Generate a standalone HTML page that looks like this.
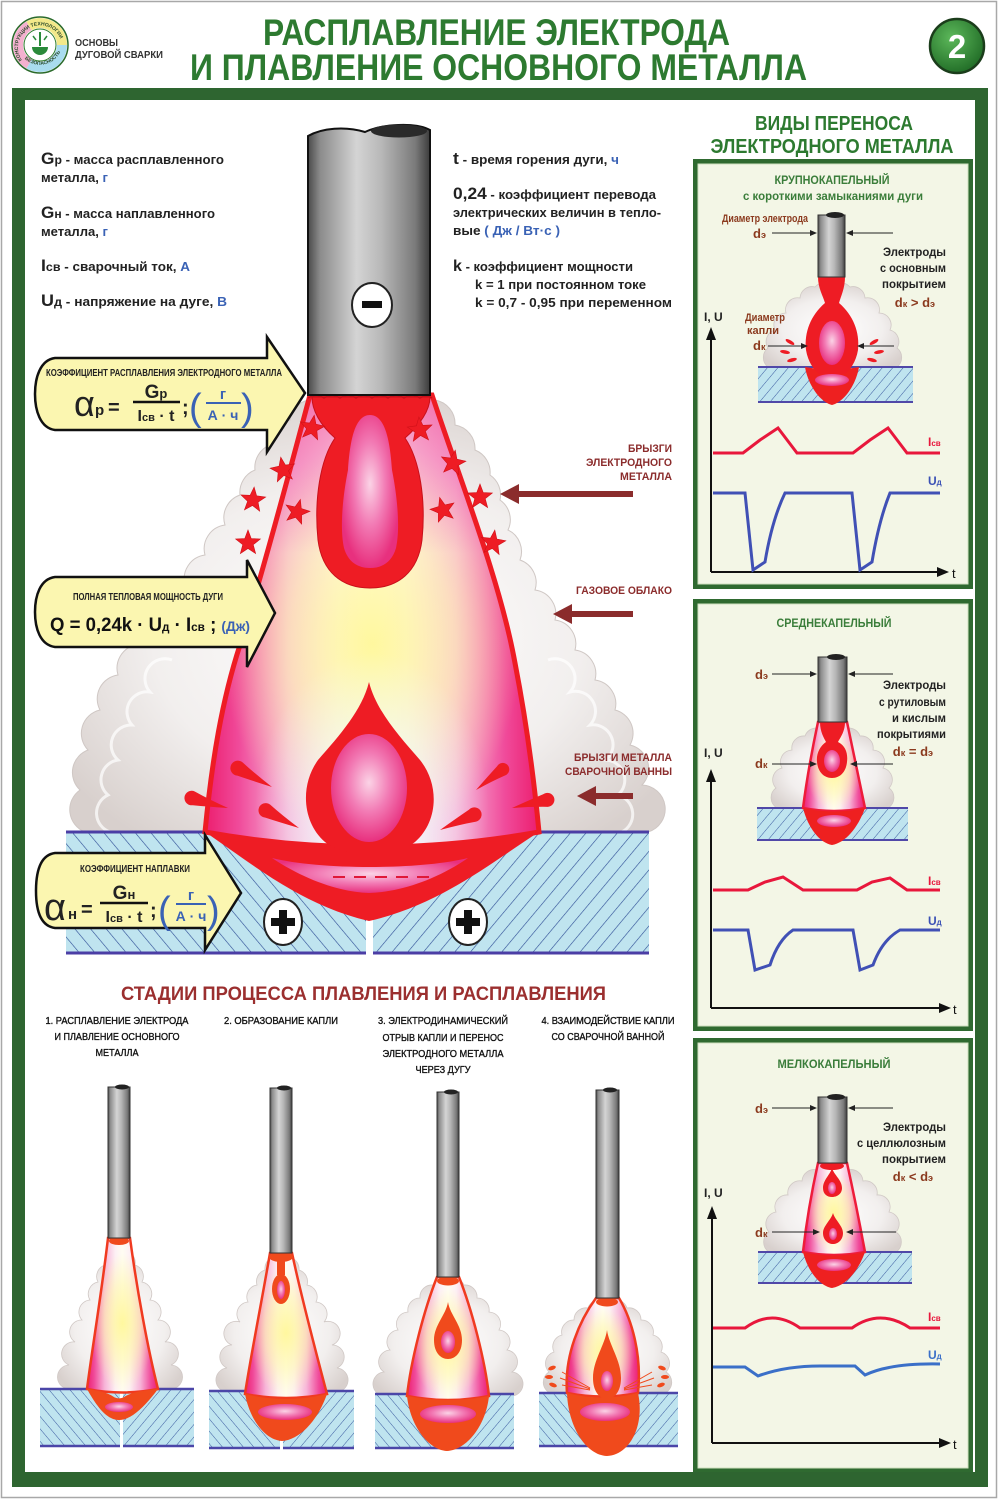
<!DOCTYPE html>
<html><head><meta charset="utf-8"><style>
html,body{margin:0;padding:0;background:#fff;}
svg{display:block;}
text{font-family:"Liberation Sans","DejaVu Sans",sans-serif;}
.b{font-weight:bold;}
</style></head><body>
<svg width="1000" height="1500" viewBox="0 0 1000 1500" xmlns="http://www.w3.org/2000/svg">
<defs>
 <linearGradient id="gEl" x1="0" x2="1" y1="0" y2="0">
  <stop offset="0" stop-color="#4a4a4a"/><stop offset=".1" stop-color="#8c8c8c"/>
  <stop offset=".4" stop-color="#d4d4d4"/><stop offset=".6" stop-color="#b8b8b8"/>
  <stop offset=".88" stop-color="#7a7a7a"/><stop offset="1" stop-color="#3c3c3c"/>
 </linearGradient>
 <linearGradient id="gFl" x1="0" x2="1" y1="0" y2="0">
  <stop offset="0" stop-color="#ec1e6e"/><stop offset=".1" stop-color="#f04a9a"/>
  <stop offset=".25" stop-color="#f7b4d8"/><stop offset=".4" stop-color="#fdf0f4"/>
  <stop offset=".5" stop-color="#fffdf2"/><stop offset=".6" stop-color="#fdf0f4"/>
  <stop offset=".75" stop-color="#f7b4d8"/><stop offset=".9" stop-color="#f04a9a"/>
  <stop offset="1" stop-color="#ec1e6e"/>
 </linearGradient>
 <radialGradient id="gYe" cx=".5" cy=".55" r=".45">
  <stop offset="0" stop-color="#fff79a" stop-opacity=".95"/>
  <stop offset=".55" stop-color="#fff8a8" stop-opacity=".55"/>
  <stop offset="1" stop-color="#fff8a8" stop-opacity="0"/>
 </radialGradient>
 <radialGradient id="gWh" cx=".5" cy=".92" r=".35">
  <stop offset="0" stop-color="#eef9fd" stop-opacity=".95"/>
  <stop offset="1" stop-color="#eef9fd" stop-opacity="0"/>
 </radialGradient>
 <linearGradient id="gTop" x1="0" y1="0" x2="0" y2="1">
  <stop offset="0" stop-color="#ee2a86" stop-opacity=".55"/>
  <stop offset=".35" stop-color="#ee2a86" stop-opacity="0"/>
 </linearGradient>
 <radialGradient id="gPk" cx=".5" cy=".45" r=".55">
  <stop offset="0" stop-color="#fbd3e6"/><stop offset=".5" stop-color="#f27ab4"/>
  <stop offset="1" stop-color="#e8307e"/>
 </radialGradient>
 <radialGradient id="gCl" cx=".5" cy=".55" r=".6">
  <stop offset="0" stop-color="#ffffff"/><stop offset=".6" stop-color="#f2efee"/>
  <stop offset="1" stop-color="#d8d0cd"/>
 </radialGradient>
 <radialGradient id="g2" cx=".4" cy=".35" r=".7">
  <stop offset="0" stop-color="#5cb85a"/><stop offset="1" stop-color="#1f6a25"/>
 </radialGradient>
 <pattern id="hL12" width="12" height="12" patternUnits="userSpaceOnUse" patternTransform="rotate(-40)">
  <rect width="12" height="12" fill="#bfe4ef"/><line x1="0" y1="0" x2="0" y2="12" stroke="#2b4a94" stroke-width="1.2"/></pattern>
 <pattern id="hR12" width="12" height="12" patternUnits="userSpaceOnUse" patternTransform="rotate(40)">
  <rect width="12" height="12" fill="#bfe4ef"/><line x1="0" y1="0" x2="0" y2="12" stroke="#2b4a94" stroke-width="1.2"/></pattern>
 <pattern id="hL8" width="8" height="8" patternUnits="userSpaceOnUse" patternTransform="rotate(-40)">
  <rect width="8" height="8" fill="#bfe4ef"/><line x1="0" y1="0" x2="0" y2="8" stroke="#3a5aa0" stroke-width="1"/></pattern>
 <pattern id="hR8" width="8" height="8" patternUnits="userSpaceOnUse" patternTransform="rotate(40)">
  <rect width="8" height="8" fill="#bfe4ef"/><line x1="0" y1="0" x2="0" y2="8" stroke="#3a5aa0" stroke-width="1"/></pattern>
 <polygon id="star" points="0,-13 3.23,-4.45 12.36,-4.02 5.23,1.7 7.64,10.52 0,5.5 -7.64,10.52 -5.23,1.7 -12.36,-4.02 -3.23,-4.45" fill="#ee1c24" stroke="#d01018" stroke-width=".6"/>
 <path id="spl" d="M0,0 Q14,-2.5 24,-4 A5,5 0 1 1 25,5.5 Q14,2.5 0,0 Z" fill="#ee1c24"/>
 <path id="lp" d="M22,60 A22,22 0 1 1 58,60" fill="none"/>
 <path id="lp2" d="M20,52 A22,22 0 0 0 60,52" fill="none"/>
</defs>

<!-- page -->
<rect x="0" y="0" width="1000" height="1500" fill="#fff"/>
<rect x="1.5" y="1.5" width="995" height="1496" fill="none" stroke="#a8a8a8" stroke-width="1.5"/>

<!-- header -->
<circle cx="40" cy="45" r="28" fill="#fff" stroke="#2a6a2a" stroke-width="1.5"/>
<path d="M29,64.05 A22,22 0 0 1 29,25.95" fill="none" stroke="#f4b0cf" stroke-width="10"/>
<path d="M29,25.95 A22,22 0 0 1 62,45" fill="none" stroke="#f3e98a" stroke-width="10"/>
<path d="M62,45 A22,22 0 0 1 29,64.05" fill="none" stroke="#a9dcef" stroke-width="10"/>
<text font-size="5" class="b" fill="#2a4a2a"><textPath href="#lp">КОНСТРУКЦИИ ТЕХНОЛОГИИ</textPath></text>
<text font-size="5" class="b" fill="#2a4a2a"><textPath href="#lp2" startOffset="8">БЕЗОПАСНОСТЬ</textPath></text>
<circle cx="40" cy="45" r="16" fill="#fff" stroke="#2a7a2a" stroke-width="1"/>
<line x1="40" y1="32" x2="40" y2="46" stroke="#2a8a3a" stroke-width="2"/>
<path d="M32,47 A8,8 0 0 0 48,47 Z" fill="#2a8a3a"/>
<line x1="33" y1="36" x2="36" y2="40" stroke="#2a8a3a" stroke-width="1.5"/>
<line x1="47" y1="36" x2="44" y2="40" stroke="#2a8a3a" stroke-width="1.5"/>
<text x="75" y="46" font-size="10" class="b" fill="#333" textLength="43" lengthAdjust="spacingAndGlyphs">ОСНОВЫ</text>
<text x="75" y="58" font-size="10" class="b" fill="#333" textLength="88" lengthAdjust="spacingAndGlyphs">ДУГОВОЙ СВАРКИ</text>
<text x="263" y="45" font-size="37" class="b" fill="#2d7a30" textLength="467" lengthAdjust="spacingAndGlyphs">РАСПЛАВЛЕНИЕ ЭЛЕКТРОДА</text>
<text x="190" y="80" font-size="37" class="b" fill="#2d7a30" textLength="617" lengthAdjust="spacingAndGlyphs">И ПЛАВЛЕНИЕ ОСНОВНОГО МЕТАЛЛА</text>
<circle cx="957" cy="46" r="27" fill="url(#g2)" stroke="#1b3d1b" stroke-width="2.5"/>
<text x="957" y="58" font-size="33" class="b" fill="#fff" text-anchor="middle">2</text>

<!-- frame -->
<rect x="12" y="88" width="976" height="1399" fill="#2e6530"/>
<rect x="25" y="100" width="950" height="1372" fill="#fff"/>

<!-- ===== MAIN DIAGRAM ===== -->
<path d="M85,832 A24,24 0 0 1 80,790 A24,24 0 0 1 88,750 A24,24 0 0 1 100,710 A24,24 0 0 1 118,675 A24,24 0 0 1 135,645 A24,24 0 0 1 160,615 A24,24 0 0 1 185,585 A24,24 0 0 1 205,555 A24,24 0 0 1 225,525 A24,24 0 0 1 240,495 A24,24 0 0 1 255,470 A24,24 0 0 1 270,445 A24,24 0 0 1 290,420 A24,24 0 0 1 308,400 L435,400 A24,24 0 0 1 455,425 A24,24 0 0 1 475,450 A24,24 0 0 1 490,475 A24,24 0 0 1 500,500 A24,24 0 0 1 508,530 A24,24 0 0 1 520,560 A24,24 0 0 1 535,590 A24,24 0 0 1 555,620 A24,24 0 0 1 575,650 A24,24 0 0 1 595,680 A24,24 0 0 1 615,710 A24,24 0 0 1 630,745 A24,24 0 0 1 642,785 A24,24 0 0 1 648,832 Z" fill="url(#gCl)" stroke="#cfc7c4" stroke-width="1"/>
<path d="M110,832 A20,20 0 0 1 108,795 A20,20 0 0 1 118,760 A20,20 0 0 1 132,725 A20,20 0 0 1 150,692 A20,20 0 0 1 172,660" fill="none" stroke="#fff" stroke-width="3" opacity=".7"/>
<path d="M622,832 A20,20 0 0 0 618,795 A20,20 0 0 0 606,760 A20,20 0 0 0 590,725 A20,20 0 0 0 570,692 A20,20 0 0 0 548,660" fill="none" stroke="#fff" stroke-width="3" opacity=".7"/>

<!-- plates -->
<rect x="66" y="832" width="300" height="121" fill="url(#hL12)"/>
<rect x="373" y="832" width="276" height="121" fill="url(#hR12)"/>
<line x1="66" y1="832" x2="366" y2="832" stroke="#4b3ea5" stroke-width="3"/>
<line x1="66" y1="953" x2="366" y2="953" stroke="#4b3ea5" stroke-width="3"/>
<line x1="373" y1="832" x2="649" y2="832" stroke="#4b3ea5" stroke-width="3"/>
<line x1="373" y1="953" x2="649" y2="953" stroke="#4b3ea5" stroke-width="3"/>

<!-- flame -->
<path d="M310,395 L432,395 C460,480 500,580 515,663 C528,730 535,790 539,832 Q372,862 205,832 C212,760 222,700 240,645 C262,575 290,470 310,395 Z" fill="url(#gFl)"/>
<path d="M310,395 L432,395 C460,480 500,580 515,663 C528,730 535,790 539,832 Q372,862 205,832 C212,760 222,700 240,645 C262,575 290,470 310,395 Z" fill="url(#gYe)"/>
<path d="M310,395 L432,395 C460,480 500,580 515,663 C528,730 535,790 539,832 Q372,862 205,832 C212,760 222,700 240,645 C262,575 290,470 310,395 Z" fill="url(#gWh)"/>
<path d="M310,395 L432,395 C460,480 500,580 515,663 C528,730 535,790 539,832 Q372,862 205,832 C212,760 222,700 240,645 C262,575 290,470 310,395 Z" fill="url(#gTop)" stroke="#ee1c24" stroke-width="5"/>

<!-- pool -->
<path d="M205,832 C250,862 300,905 369,921 C440,905 492,862 539,832 Q372,860 205,832 Z" fill="#ee1c24"/>
<path d="M272,858 C305,880 340,892 369,893 C400,892 436,880 468,858 C420,870 320,870 272,858 Z" fill="url(#gPk)"/>
<line x1="333" y1="877" x2="434" y2="877" stroke="#e01838" stroke-width="2" stroke-dasharray="12,9"/>

<!-- big drop -->
<path d="M369,682 C362,710 340,735 318,760 C300,785 302,822 325,842 C345,858 395,858 415,842 C438,822 440,785 420,760 C398,735 376,710 369,682 Z" fill="#ee1c24"/>
<ellipse cx="369" cy="788" rx="38" ry="54" fill="url(#gPk)"/>

<!-- top drop -->
<path d="M312,397 L430,397 C430,410 420,425 405,438 C420,460 426,500 422,540 C418,572 398,588 370,588 C342,588 322,572 318,540 C314,500 320,460 335,438 C320,425 312,410 312,397 Z" fill="#ee1c24" stroke="#c8101a" stroke-width="1"/>
<path d="M370,415 C385,415 390,440 392,470 C398,500 400,530 396,548 C392,562 382,568 370,568 C358,568 348,562 344,548 C340,530 342,500 348,470 C350,440 355,415 370,415 Z" fill="url(#gPk)"/>
<path d="M308,398 Q316,393 324,398 Q332,393 340,398 Q348,393 356,398 Q364,393 372,398 Q380,393 388,398 Q396,393 404,398 Q412,393 420,398 Q426,394 432,398" fill="none" stroke="#c8101a" stroke-width="1.5"/>

<!-- stars -->
<use href="#star" transform="translate(312,428) rotate(10)"/>
<use href="#star" transform="translate(283,470) rotate(-10)"/>
<use href="#star" transform="translate(253,500) rotate(5)"/>
<use href="#star" transform="translate(297,512) rotate(15)"/>
<use href="#star" transform="translate(248,543)"/>
<use href="#star" transform="translate(420,430) rotate(-5)"/>
<use href="#star" transform="translate(453,463) rotate(10)"/>
<use href="#star" transform="translate(480,497)"/>
<use href="#star" transform="translate(443,510) rotate(-15)"/>
<use href="#star" transform="translate(493,543) rotate(8)"/>

<!-- splashes -->
<use href="#spl" transform="translate(272,787) rotate(207.6) scale(1.5)"/>
<use href="#spl" transform="translate(228,808) rotate(194) scale(1.45)"/>
<use href="#spl" transform="translate(299,828) rotate(206.6) scale(1.45)"/>
<use href="#spl" transform="translate(476,790) rotate(-38.9) scale(1.3)"/>
<use href="#spl" transform="translate(512,808) rotate(-14.3) scale(1.4)"/>
<use href="#spl" transform="translate(440,830) rotate(-25.5) scale(1.45)"/>

<!-- plus signs -->
<ellipse cx="283" cy="922" rx="19" ry="23" fill="#fff" stroke="#222" stroke-width="2"/>
<rect x="279" y="910" width="8" height="24" fill="#111"/><rect x="271" y="918" width="24" height="8" fill="#111"/>
<ellipse cx="468" cy="922" rx="19" ry="23" fill="#fff" stroke="#222" stroke-width="2"/>
<rect x="464" y="910" width="8" height="24" fill="#111"/><rect x="456" y="918" width="24" height="8" fill="#111"/>

<!-- electrode -->
<path d="M308,395 L308,136 C322,128 345,126 365,132 C382,124 415,122 430,130 L430,395 Z" fill="url(#gEl)" stroke="#111" stroke-width="2"/>
<ellipse cx="399" cy="131" rx="28" ry="6.5" fill="#2a2a2a"/>
<ellipse cx="372" cy="305" rx="20" ry="22" fill="#fff" stroke="#222" stroke-width="2"/>
<rect x="362" y="301" width="20" height="7" fill="#111"/>

<!-- formula box 1 -->
<path d="M55,358 L267,358 L267,337 L305,393 L267,452 L267,430 L55,430 C40,428 35,410 35,394 C35,378 40,360 55,358 Z" fill="#fbf6b0" stroke="#111" stroke-width="2.5"/>
<text x="46" y="376" font-size="10" class="b" fill="#222" textLength="236" lengthAdjust="spacingAndGlyphs">КОЭФФИЦИЕНТ РАСПЛАВЛЕНИЯ ЭЛЕКТРОДНОГО МЕТАЛЛА</text>
<text x="74" y="416" font-family="Liberation Serif,serif" font-size="36" fill="#222">α</text>
<text x="95" y="415" font-size="15" class="b" fill="#222">р</text>
<text x="108" y="414" font-size="20" class="b" fill="#222">=</text>
<text x="156" y="398" font-size="19" class="b" fill="#222" text-anchor="middle">G<tspan font-size="13">р</tspan></text>
<line x1="133" y1="402" x2="180" y2="402" stroke="#111" stroke-width="2.5"/>
<text x="156" y="421" font-size="16" class="b" fill="#222" text-anchor="middle">I<tspan font-size="11">св</tspan> · t</text>
<text x="182" y="414" font-size="20" class="b" fill="#222">;</text>
<text x="189" y="420" font-size="38" fill="#3a62b5">(</text>
<text x="223" y="399" font-size="15" class="b" fill="#3a62b5" text-anchor="middle">г</text>
<line x1="206" y1="403" x2="241" y2="403" stroke="#3a62b5" stroke-width="2"/>
<text x="223" y="420" font-size="14" class="b" fill="#3a62b5" text-anchor="middle">А · ч</text>
<text x="241" y="420" font-size="38" fill="#3a62b5">)</text>

<!-- formula box 2 -->
<path d="M55,577 L247,577 L247,560 L275,613 L247,667 L247,647 L55,647 C40,645 35,628 35,612 C35,596 40,579 55,577 Z" fill="#fbf6b0" stroke="#111" stroke-width="2.5"/>
<text x="73" y="600" font-size="10" class="b" fill="#222" textLength="150" lengthAdjust="spacingAndGlyphs">ПОЛНАЯ ТЕПЛОВАЯ МОЩНОСТЬ ДУГИ</text>
<text x="50" y="631" font-size="19" class="b" fill="#111" textLength="200" lengthAdjust="spacingAndGlyphs">Q = 0,24k · U<tspan font-size="12">д</tspan> · I<tspan font-size="12">св</tspan> ; <tspan font-size="14" fill="#3a62b5">(Дж)</tspan></text>

<!-- formula box 3 -->
<path d="M55,853 L205,853 L205,835 L241,893 L205,950 L205,928 L55,928 C40,926 36,910 36,891 C36,872 40,855 55,853 Z" fill="#fbf6b0" stroke="#111" stroke-width="2.5"/>
<text x="80" y="872" font-size="10" class="b" fill="#222" textLength="110" lengthAdjust="spacingAndGlyphs">КОЭФФИЦИЕНТ НАПЛАВКИ</text>
<text x="44" y="920" font-family="Liberation Serif,serif" font-size="38" fill="#222">α</text>
<text x="68" y="919" font-size="15" class="b" fill="#222">н</text>
<text x="81" y="916" font-size="20" class="b" fill="#222">=</text>
<text x="124" y="899" font-size="19" class="b" fill="#222" text-anchor="middle">G<tspan font-size="13">н</tspan></text>
<line x1="100" y1="903" x2="148" y2="903" stroke="#111" stroke-width="2.5"/>
<text x="124" y="922" font-size="16" class="b" fill="#222" text-anchor="middle">I<tspan font-size="11">св</tspan> · t</text>
<text x="150" y="917" font-size="20" class="b" fill="#222">;</text>
<text x="158" y="923" font-size="38" fill="#3a62b5">(</text>
<text x="191" y="900" font-size="15" class="b" fill="#3a62b5" text-anchor="middle">г</text>
<line x1="176" y1="904" x2="206" y2="904" stroke="#3a62b5" stroke-width="2"/>
<text x="191" y="921" font-size="14" class="b" fill="#3a62b5" text-anchor="middle">А · ч</text>
<text x="207" y="923" font-size="38" fill="#3a62b5">)</text>

<!-- left legend -->
<g font-weight="bold" fill="#222">
<text x="41" y="164" font-size="13" textLength="183" lengthAdjust="spacingAndGlyphs"><tspan font-size="17">G</tspan><tspan font-size="12">р</tspan> - масса расплавленного</text>
<text x="41" y="182" font-size="13" textLength="67" lengthAdjust="spacingAndGlyphs">металла, <tspan fill="#3a62b5">г</tspan></text>
<text x="41" y="218" font-size="13" textLength="174" lengthAdjust="spacingAndGlyphs"><tspan font-size="17">G</tspan><tspan font-size="12">н</tspan> - масса наплавленного</text>
<text x="41" y="236" font-size="13" textLength="67" lengthAdjust="spacingAndGlyphs">металла, <tspan fill="#3a62b5">г</tspan></text>
<text x="41" y="271" font-size="13" textLength="149" lengthAdjust="spacingAndGlyphs"><tspan font-size="17">I</tspan><tspan font-size="12">св</tspan> - сварочный ток, <tspan fill="#3a62b5">А</tspan></text>
<text x="41" y="306" font-size="13" textLength="186" lengthAdjust="spacingAndGlyphs"><tspan font-size="17">U</tspan><tspan font-size="12">д</tspan> - напряжение на дуге, <tspan fill="#3a62b5">В</tspan></text>
<!-- right legend -->
<text x="453" y="164" font-size="13" textLength="166" lengthAdjust="spacingAndGlyphs"><tspan font-size="17">t</tspan> - время горения дуги, <tspan fill="#3a62b5">ч</tspan></text>
<text x="453" y="199" font-size="13" textLength="203" lengthAdjust="spacingAndGlyphs"><tspan font-size="17">0,24</tspan> - коэффициент перевода</text>
<text x="453" y="217" font-size="13" textLength="208" lengthAdjust="spacingAndGlyphs">электрических величин в тепло-</text>
<text x="453" y="235" font-size="13" textLength="107" lengthAdjust="spacingAndGlyphs">вые <tspan fill="#3a62b5">( Дж / Вт·с )</tspan></text>
<text x="453" y="271" font-size="13" textLength="180" lengthAdjust="spacingAndGlyphs"><tspan font-size="16">k</tspan> - коэффициент мощности</text>
<text x="475" y="289" font-size="13" textLength="171" lengthAdjust="spacingAndGlyphs">k = 1 при постоянном токе</text>
<text x="475" y="307" font-size="13" textLength="197" lengthAdjust="spacingAndGlyphs">k = 0,7 - 0,95 при переменном</text>
</g>

<!-- right labels with arrows -->
<g font-weight="bold" fill="#8b2c2c" font-size="11" text-anchor="end">
<text x="672" y="452" textLength="44" lengthAdjust="spacingAndGlyphs">БРЫЗГИ</text>
<text x="672" y="466" textLength="86" lengthAdjust="spacingAndGlyphs">ЭЛЕКТРОДНОГО</text>
<text x="672" y="480" textLength="52" lengthAdjust="spacingAndGlyphs">МЕТАЛЛА</text>
<text x="672" y="594" textLength="96" lengthAdjust="spacingAndGlyphs">ГАЗОВОЕ ОБЛАКО</text>
<text x="672" y="761" textLength="98" lengthAdjust="spacingAndGlyphs">БРЫЗГИ МЕТАЛЛА</text>
<text x="672" y="775" textLength="107" lengthAdjust="spacingAndGlyphs">СВАРОЧНОЙ ВАННЫ</text>
</g>
<polygon points="500,494 519,484 519,491 633,491 633,497 519,497 519,504" fill="#8b2c2c"/>
<polygon points="553,614 572,604 572,611 633,611 633,617 572,617 572,624" fill="#8b2c2c"/>
<polygon points="577,796 596,786 596,793 633,793 633,799 596,799 596,806" fill="#8b2c2c"/>

<!-- ===== STAGES ===== -->
<text x="121" y="1000" font-size="19" class="b" fill="#9b2f2f" textLength="485" lengthAdjust="spacingAndGlyphs">СТАДИИ  ПРОЦЕССА  ПЛАВЛЕНИЯ  И  РАСПЛАВЛЕНИЯ</text>
<g font-size="10.5" fill="#111" stroke="#111" stroke-width="0.35" text-anchor="middle">
<text x="117" y="1024" textLength="143" lengthAdjust="spacingAndGlyphs">1. РАСПЛАВЛЕНИЕ ЭЛЕКТРОДА</text>
<text x="117" y="1040" textLength="125" lengthAdjust="spacingAndGlyphs">И ПЛАВЛЕНИЕ ОСНОВНОГО</text>
<text x="117" y="1056" textLength="43" lengthAdjust="spacingAndGlyphs">МЕТАЛЛА</text>
<text x="281" y="1024" textLength="114" lengthAdjust="spacingAndGlyphs">2. ОБРАЗОВАНИЕ КАПЛИ</text>
<text x="443" y="1024" textLength="130" lengthAdjust="spacingAndGlyphs">3. ЭЛЕКТРОДИНАМИЧЕСКИЙ</text>
<text x="443" y="1041" textLength="121" lengthAdjust="spacingAndGlyphs">ОТРЫВ КАПЛИ И ПЕРЕНОС</text>
<text x="443" y="1057" textLength="121" lengthAdjust="spacingAndGlyphs">ЭЛЕКТРОДНОГО МЕТАЛЛА</text>
<text x="443" y="1073" textLength="55" lengthAdjust="spacingAndGlyphs">ЧЕРЕЗ ДУГУ</text>
<text x="608" y="1024" textLength="133" lengthAdjust="spacingAndGlyphs">4. ВЗАИМОДЕЙСТВИЕ КАПЛИ</text>
<text x="608" y="1040" textLength="113" lengthAdjust="spacingAndGlyphs">СО СВАРОЧНОЙ ВАННОЙ</text>
</g>

<!-- stage 1 -->
<path d="M70,1389 A12,12 0 0 1 69,1365 A12,12 0 0 1 75,1342 A12,12 0 0 1 82,1320 A12,12 0 0 1 90,1300 A12,12 0 0 1 98,1282 A12,12 0 0 1 105,1265 A12,12 0 0 1 110,1252 L129,1252 A12,12 0 0 1 135,1265 A12,12 0 0 1 142,1282 A12,12 0 0 1 150,1300 A12,12 0 0 1 158,1320 A12,12 0 0 1 165,1342 A12,12 0 0 1 171,1365 A12,12 0 0 1 170,1389 Z" fill="url(#gCl)" stroke="#d0c8c5" stroke-width=".8"/>
<rect x="40" y="1389" width="80" height="57" fill="url(#hL8)"/>
<rect x="123" y="1389" width="71" height="57" fill="url(#hR8)"/>
<path d="M40,1389 H120 M123,1389 H194 M40,1446 H120 M123,1446 H194" stroke="#4b46a8" stroke-width="2.5"/>
<path d="M108,1238 L130,1238 C137,1290 148,1350 158,1389 Q122,1396 87,1389 C92,1350 102,1290 108,1238 Z" fill="url(#gFl)"/>
<path d="M108,1238 L130,1238 C137,1290 148,1350 158,1389 Q122,1396 87,1389 C92,1350 102,1290 108,1238 Z" fill="url(#gYe)" stroke="#f03a20" stroke-width="2.5"/>
<path d="M87,1389 C96,1405 106,1420 119,1420 C132,1420 146,1405 158,1389 C145,1390 132,1392 124,1397 Q119,1400 114,1397 C107,1392 95,1390 87,1389 Z" fill="#f04a1c"/>
<ellipse cx="119" cy="1407" rx="14" ry="5" fill="url(#gPk)"/>
<ellipse cx="119" cy="1241" rx="10" ry="4" fill="#f04a1c"/>
<rect x="108" y="1087" width="22" height="151" fill="url(#gEl)" stroke="#333" stroke-width="1"/>
<ellipse cx="122" cy="1087" rx="7" ry="2.5" fill="#222"/>

<!-- stage 2 -->
<path d="M229,1392 A12,12 0 0 1 227,1368 A12,12 0 0 1 232,1345 A12,12 0 0 1 240,1322 A12,12 0 0 1 248,1302 A12,12 0 0 1 257,1285 A12,12 0 0 1 265,1270 A12,12 0 0 1 271,1258 L292,1258 A12,12 0 0 1 299,1270 A12,12 0 0 1 307,1285 A12,12 0 0 1 316,1302 A12,12 0 0 1 324,1322 A12,12 0 0 1 332,1345 A12,12 0 0 1 337,1368 A12,12 0 0 1 335,1392 Z" fill="url(#gCl)" stroke="#d0c8c5" stroke-width=".8"/>
<rect x="209" y="1391" width="71" height="57" fill="url(#hL8)"/>
<rect x="283" y="1391" width="71" height="57" fill="url(#hR8)"/>
<path d="M209,1391 H280 M283,1391 H354 M209,1448 H280 M283,1448 H354" stroke="#4b46a8" stroke-width="2.5"/>
<path d="M270,1253 L292,1253 C302,1300 318,1360 327,1394 Q286,1402 245,1394 C250,1360 262,1300 270,1253 Z" fill="url(#gFl)"/>
<path d="M270,1253 L292,1253 C302,1300 318,1360 327,1394 Q286,1402 245,1394 C250,1360 262,1300 270,1253 Z" fill="url(#gYe)" stroke="#f03a20" stroke-width="2.5"/>
<path d="M245,1394 C250,1420 265,1440 282,1441 C300,1440 318,1420 327,1394 Q286,1404 245,1394 Z" fill="#f04a1c"/>
<ellipse cx="285" cy="1412" rx="27" ry="8" fill="url(#gPk)"/>
<ellipse cx="281" cy="1257" rx="12" ry="5" fill="#f04a1c"/>
<rect x="277" y="1255" width="8" height="20" fill="#f04a1c"/>
<ellipse cx="281" cy="1289" rx="9" ry="15" fill="#f04a1c"/>
<ellipse cx="281" cy="1290" rx="4" ry="9" fill="url(#gPk)"/>
<rect x="270" y="1088" width="22" height="165" fill="url(#gEl)" stroke="#333" stroke-width="1"/>
<ellipse cx="284" cy="1088" rx="7" ry="2.5" fill="#222"/>

<!-- stage 3 -->
<path d="M386,1396 A12,12 0 0 1 384,1372 A12,12 0 0 1 390,1350 A12,12 0 0 1 398,1330 A12,12 0 0 1 408,1312 A12,12 0 0 1 420,1298 A12,12 0 0 1 433,1285 A12,12 0 0 1 438,1279 L458,1279 A12,12 0 0 1 464,1285 A12,12 0 0 1 477,1298 A12,12 0 0 1 489,1312 A12,12 0 0 1 499,1330 A12,12 0 0 1 507,1350 A12,12 0 0 1 512,1372 A12,12 0 0 1 510,1396 Z" fill="url(#gCl)" stroke="#d0c8c5" stroke-width=".8"/>
<rect x="375" y="1394" width="72" height="54" fill="url(#hL8)"/>
<rect x="449" y="1394" width="65" height="54" fill="url(#hR8)"/>
<path d="M375,1394 H514 M375,1448 H514" stroke="#4b46a8" stroke-width="2.5"/>
<path d="M437,1277 L459,1277 C472,1310 485,1360 489,1396 Q448,1404 407,1396 C411,1360 424,1310 437,1277 Z" fill="url(#gFl)"/>
<path d="M437,1277 L459,1277 C472,1310 485,1360 489,1396 Q448,1404 407,1396 C411,1360 424,1310 437,1277 Z" fill="url(#gYe)" stroke="#f03a20" stroke-width="2.5"/>
<path d="M407,1396 C410,1425 428,1450 447,1451 C467,1450 486,1425 489,1396 Q448,1404 407,1396 Z" fill="#f04a1c"/>
<ellipse cx="448" cy="1414" rx="28" ry="9" fill="url(#gPk)"/>
<ellipse cx="448" cy="1281" rx="11" ry="4.5" fill="#f04a1c"/>
<path d="M448,1302 C446,1315 434,1325 434,1340 C434,1353 441,1359 448,1359 C455,1359 462,1353 462,1340 C462,1325 450,1315 448,1302 Z" fill="#f04a1c"/>
<ellipse cx="448" cy="1342" rx="7" ry="11" fill="url(#gPk)"/>
<rect x="437" y="1092" width="22" height="185" fill="url(#gEl)" stroke="#333" stroke-width="1"/>
<ellipse cx="451" cy="1092" rx="7" ry="2.5" fill="#222"/>

<!-- stage 4 -->
<path d="M550,1393 A12,12 0 0 1 549,1372 A12,12 0 0 1 554,1352 A12,12 0 0 1 562,1335 A12,12 0 0 1 574,1320 A12,12 0 0 1 588,1308 A12,12 0 0 1 597,1300 L618,1300 A12,12 0 0 1 627,1308 A12,12 0 0 1 641,1320 A12,12 0 0 1 653,1335 A12,12 0 0 1 661,1352 A12,12 0 0 1 666,1372 A12,12 0 0 1 665,1393 Z" fill="url(#gCl)" stroke="#d0c8c5" stroke-width=".8"/>
<rect x="539" y="1393" width="68" height="53" fill="url(#hL8)"/>
<rect x="609" y="1393" width="69" height="53" fill="url(#hR8)"/>
<path d="M539,1393 H678 M539,1446 H678" stroke="#4b46a8" stroke-width="2.5"/>
<path d="M596,1298 L619,1298 C632,1320 642,1355 638,1393 Q602,1400 567,1393 C564,1355 580,1320 596,1298 Z" fill="url(#gFl)"/>
<path d="M596,1298 L619,1298 C632,1320 642,1355 638,1393 Q602,1400 567,1393 C564,1355 580,1320 596,1298 Z" fill="url(#gYe)" stroke="#f03a20" stroke-width="2.5"/>
<path d="M567,1393 C568,1425 585,1455 607,1456 C630,1455 645,1425 638,1393 Q602,1402 567,1393 Z" fill="#f04a1c"/>
<ellipse cx="605" cy="1412" rx="25" ry="9" fill="url(#gPk)"/>
<ellipse cx="607" cy="1302" rx="11" ry="4.5" fill="#f04a1c"/>
<path d="M607,1330 C605,1345 593,1360 593,1378 C593,1392 600,1399 607,1399 C614,1399 621,1392 621,1378 C621,1360 609,1345 607,1330 Z" fill="#f04a1c"/>
<ellipse cx="607" cy="1381" rx="6" ry="10" fill="url(#gPk)"/>
<g stroke="#f04a1c" stroke-width="1" fill="none">
<path d="M590,1388 L562,1372 M590,1389 L560,1378 M590,1390 L562,1385 M624,1388 L652,1372 M624,1389 L654,1378 M624,1390 L652,1385"/>
</g>
<g fill="#f04a1c">
<ellipse cx="552" cy="1368" rx="4" ry="2" transform="rotate(-20 552 1368)"/><ellipse cx="549" cy="1377" rx="4" ry="2"/><ellipse cx="553" cy="1385" rx="4" ry="2" transform="rotate(20 553 1385)"/>
<ellipse cx="662" cy="1368" rx="4" ry="2" transform="rotate(20 662 1368)"/><ellipse cx="665" cy="1377" rx="4" ry="2"/><ellipse cx="661" cy="1385" rx="4" ry="2" transform="rotate(-20 661 1385)"/>
</g>
<rect x="596" y="1090" width="23" height="208" fill="url(#gEl)" stroke="#333" stroke-width="1"/>
<ellipse cx="610" cy="1090" rx="7" ry="2.5" fill="#222"/>

<!-- ===== RIGHT COLUMN ===== -->
<text x="834" y="130" font-size="20" class="b" fill="#2d7a30" text-anchor="middle" textLength="158" lengthAdjust="spacingAndGlyphs">ВИДЫ  ПЕРЕНОСА</text>
<text x="832" y="153" font-size="20" class="b" fill="#2d7a30" text-anchor="middle" textLength="243" lengthAdjust="spacingAndGlyphs">ЭЛЕКТРОДНОГО  МЕТАЛЛА</text>

<!-- panel frames -->
<rect x="693" y="159" width="280" height="430" fill="#2f6a30"/>
<rect x="698" y="164" width="270" height="420" fill="#f3f6e6" stroke="#cfe0bf" stroke-width="1"/>
<rect x="693" y="599" width="280" height="432" fill="#2f6a30"/>
<rect x="698" y="604" width="270" height="422" fill="#f3f6e6" stroke="#cfe0bf" stroke-width="1"/>
<rect x="693" y="1038" width="280" height="434" fill="#2f6a30"/>
<rect x="698" y="1043" width="270" height="425" fill="#f3f6e6" stroke="#cfe0bf" stroke-width="1"/>

<!-- panel 1 drawing -->
<path d="M768,367 A12,12 0 0 1 768,348 A12,12 0 0 1 775,330 A12,12 0 0 1 786,313 A12,12 0 0 1 800,298 A12,12 0 0 1 815,287 A12,12 0 0 1 822,283 L843,283 A12,12 0 0 1 850,287 A12,12 0 0 1 865,298 A12,12 0 0 1 879,313 A12,12 0 0 1 890,330 A12,12 0 0 1 897,348 A12,12 0 0 1 897,367 Z" fill="url(#gCl)" stroke="#d0c8c5" stroke-width=".8"/>
<rect x="758" y="367" width="155" height="35" fill="url(#hR8)"/>
<path d="M758,367 H913 M758,402 H913" stroke="#5048a8" stroke-width="2"/>
<path d="M805,367 C808,385 820,402 832,405 C844,402 856,385 859,367 Q832,372 805,367 Z" fill="#ee2020"/>
<ellipse cx="832" cy="380" rx="17" ry="6" fill="url(#gPk)"/>
<path d="M818,277 L845,277 C845,288 841,296 839,303 C853,315 860,332 858,350 C856,362 850,370 845,374 L819,374 C814,370 808,362 806,350 C804,332 811,315 825,303 C823,296 818,288 818,277 Z" fill="#ee1c24"/>
<ellipse cx="832" cy="343" rx="13" ry="22" fill="url(#gPk)"/>
<g fill="#ee1c24">
<ellipse cx="790" cy="342" rx="5" ry="1.8" transform="rotate(30 790 342)"/><ellipse cx="785" cy="352" rx="5" ry="1.8" transform="rotate(10 785 352)"/><ellipse cx="792" cy="360" rx="5" ry="1.8" transform="rotate(-15 792 360)"/>
<ellipse cx="874" cy="342" rx="5" ry="1.8" transform="rotate(-30 874 342)"/><ellipse cx="879" cy="352" rx="5" ry="1.8" transform="rotate(-10 879 352)"/><ellipse cx="872" cy="360" rx="5" ry="1.8" transform="rotate(15 872 360)"/>
</g>
<rect x="818" y="215" width="27" height="62" fill="url(#gEl)" stroke="#333" stroke-width="1"/>
<ellipse cx="835" cy="215" rx="9" ry="3" fill="#222"/>

<!-- panel 1 text -->
<text x="832" y="184" font-size="12" class="b" fill="#3a7d3a" text-anchor="middle" textLength="115" lengthAdjust="spacingAndGlyphs">КРУПНОКАПЕЛЬНЫЙ</text>
<text x="833" y="200" font-size="11.5" class="b" fill="#3a7d3a" text-anchor="middle" textLength="180" lengthAdjust="spacingAndGlyphs">с короткими замыканиями дуги</text>
<text x="722" y="222" font-size="11" class="b" fill="#8b3a1e" textLength="86" lengthAdjust="spacingAndGlyphs">Диаметр электрода</text>
<text x="753" y="238" font-size="13" class="b" fill="#8b3a1e">d<tspan font-size="9">э</tspan></text>
<path d="M772,233 H812 M893,233 H851" stroke="#222" stroke-width="1"/>
<polygon points="817,233 810,230 810,236" fill="#222"/><polygon points="846,233 853,230 853,236" fill="#222"/>
<g font-size="12" class="b" fill="#222" text-anchor="end">
<text x="946" y="256" textLength="63" lengthAdjust="spacingAndGlyphs">Электроды</text>
<text x="946" y="272" textLength="66" lengthAdjust="spacingAndGlyphs">с основным</text>
<text x="946" y="288" textLength="64" lengthAdjust="spacingAndGlyphs">покрытием</text>
</g>
<text x="935" y="307" font-size="13" class="b" fill="#8b3a1e" text-anchor="end">d<tspan font-size="9">к</tspan> &gt; d<tspan font-size="9">э</tspan></text>
<text x="704" y="321" font-size="12" class="b" fill="#222">I, U</text>
<g font-size="11" class="b" fill="#8b3a1e"><text x="745" y="321" textLength="40" lengthAdjust="spacingAndGlyphs">Диаметр</text><text x="747" y="334">капли</text></g>
<text x="753" y="350" font-size="13" class="b" fill="#8b3a1e">d<tspan font-size="9">к</tspan></text>
<path d="M768,346 H803 M894,346 H862" stroke="#222" stroke-width="1"/>
<polygon points="808,346 801,343 801,349" fill="#222"/><polygon points="857,346 864,343 864,349" fill="#222"/>
<path d="M711,572 V336 M711,572 H940" stroke="#111" stroke-width="2"/>
<polygon points="711,327 706,340 716,340" fill="#111"/><polygon points="949,572 937,567 937,577" fill="#111"/>
<text x="952" y="578" font-size="13" fill="#111">t</text>
<polyline points="713,453 743,453 760,440 778,428 797,453 853,453 870,440 888,428 907,453 940,453" fill="none" stroke="#e8173c" stroke-width="3"/>
<path d="M713,493 L745,493 L753,570 L765,562 Q772,520 785,493 L852,493 L860,570 L872,562 Q879,520 890,493 L940,493" fill="none" stroke="#4050b5" stroke-width="3"/>
<text x="928" y="446" font-size="12" class="b" fill="#e8173c">I<tspan font-size="8">св</tspan></text>
<text x="928" y="485" font-size="12" class="b" fill="#3a50b5">U<tspan font-size="8">д</tspan></text>

<!-- panel 2 drawing -->
<path d="M777,808 A12,12 0 0 1 776,788 A12,12 0 0 1 782,768 A12,12 0 0 1 792,750 A12,12 0 0 1 805,736 A12,12 0 0 1 817,728 L848,728 A12,12 0 0 1 860,736 A12,12 0 0 1 873,750 A12,12 0 0 1 883,768 A12,12 0 0 1 889,788 A12,12 0 0 1 888,808 Z" fill="url(#gCl)" stroke="#d0c8c5" stroke-width=".8"/>
<rect x="757" y="808" width="151" height="32" fill="url(#hR8)"/>
<path d="M757,808 H908 M757,840 H908" stroke="#5048a8" stroke-width="2"/>
<path d="M818,722 L847,722 C853,750 860,785 865,808 Q834,814 803,808 C806,785 812,750 818,722 Z" fill="url(#gFl)"/>
<path d="M818,722 L847,722 C853,750 860,785 865,808 Q834,814 803,808 C806,785 812,750 818,722 Z" fill="url(#gYe)" stroke="#ee1c3a" stroke-width="2.5"/>
<path d="M803,808 C808,828 820,843 832,845 C845,843 858,828 865,808 Q834,815 803,808 Z" fill="#ee2020"/>
<ellipse cx="834" cy="821" rx="17" ry="6" fill="url(#gPk)"/>
<path d="M820,722 L845,722 C845,732 840,738 838,742 C846,746 848,754 847,762 C846,772 840,778 832,778 C824,778 818,772 817,762 C816,754 820,746 826,742 C824,738 820,732 820,722 Z" fill="#ee1c24"/>
<ellipse cx="832" cy="761" rx="8" ry="11" fill="url(#gPk)"/>
<rect x="818" y="657" width="29" height="65" fill="url(#gEl)" stroke="#333" stroke-width="1"/>
<ellipse cx="836" cy="657" rx="9" ry="3" fill="#222"/>

<!-- panel 2 text -->
<text x="834" y="627" font-size="12" class="b" fill="#3a7d3a" text-anchor="middle" textLength="115" lengthAdjust="spacingAndGlyphs">СРЕДНЕКАПЕЛЬНЫЙ</text>
<text x="755" y="679" font-size="13" class="b" fill="#8b3a1e">d<tspan font-size="9">э</tspan></text>
<path d="M772,674 H812 M893,674 H853" stroke="#222" stroke-width="1"/>
<polygon points="817,674 810,671 810,677" fill="#222"/><polygon points="848,674 855,671 855,677" fill="#222"/>
<g font-size="12" class="b" fill="#222" text-anchor="end">
<text x="946" y="689" textLength="63" lengthAdjust="spacingAndGlyphs">Электроды</text>
<text x="946" y="706" textLength="67" lengthAdjust="spacingAndGlyphs">с рутиловым</text>
<text x="946" y="722" textLength="54" lengthAdjust="spacingAndGlyphs">и кислым</text>
<text x="946" y="738" textLength="69" lengthAdjust="spacingAndGlyphs">покрытиями</text>
</g>
<text x="933" y="756" font-size="13" class="b" fill="#8b3a1e" text-anchor="end">d<tspan font-size="9">к</tspan> = d<tspan font-size="9">э</tspan></text>
<text x="704" y="757" font-size="12" class="b" fill="#222">I, U</text>
<text x="755" y="768" font-size="13" class="b" fill="#8b3a1e">d<tspan font-size="9">к</tspan></text>
<path d="M772,764 H812 M893,764 H855" stroke="#222" stroke-width="1"/>
<polygon points="817,764 810,761 810,767" fill="#222"/><polygon points="850,764 857,761 857,767" fill="#222"/>
<path d="M711,1008 V778 M711,1008 H943" stroke="#111" stroke-width="2"/>
<polygon points="711,769 706,782 716,782" fill="#111"/><polygon points="951,1008 939,1003 939,1013" fill="#111"/>
<text x="953" y="1014" font-size="13" fill="#111">t</text>
<polyline points="713,890 748,890 765,882 783,877 803,890 857,890 872,882 890,878 907,890 940,890" fill="none" stroke="#e8173c" stroke-width="3"/>
<path d="M713,930 L748,930 L755,970 L770,965 Q778,940 793,930 L853,930 L860,970 L873,965 Q882,940 900,930 L940,930" fill="none" stroke="#4050b5" stroke-width="3"/>
<text x="928" y="885" font-size="12" class="b" fill="#e8173c">I<tspan font-size="8">св</tspan></text>
<text x="928" y="925" font-size="12" class="b" fill="#3a50b5">U<tspan font-size="8">д</tspan></text>

<!-- panel 3 drawing -->
<path d="M769,1252 A12,12 0 0 1 769,1232 A12,12 0 0 1 776,1212 A12,12 0 0 1 788,1195 A12,12 0 0 1 802,1181 A12,12 0 0 1 817,1170 L848,1170 A12,12 0 0 1 863,1181 A12,12 0 0 1 877,1195 A12,12 0 0 1 889,1212 A12,12 0 0 1 896,1232 A12,12 0 0 1 896,1252 Z" fill="url(#gCl)" stroke="#d0c8c5" stroke-width=".8"/>
<rect x="758" y="1252" width="154" height="31" fill="url(#hR8)"/>
<path d="M758,1252 H912 M758,1283 H912" stroke="#5048a8" stroke-width="2"/>
<path d="M818,1163 L847,1163 C853,1190 860,1225 865,1252 Q834,1258 803,1252 C806,1225 812,1190 818,1163 Z" fill="url(#gFl)"/>
<path d="M818,1163 L847,1163 C853,1190 860,1225 865,1252 Q834,1258 803,1252 C806,1225 812,1190 818,1163 Z" fill="url(#gYe)" stroke="#ee1c3a" stroke-width="2.5"/>
<path d="M803,1252 C808,1272 820,1286 832,1288 C845,1286 858,1272 865,1252 Q834,1259 803,1252 Z" fill="#ee2020"/>
<ellipse cx="834" cy="1265" rx="17" ry="6" fill="url(#gPk)"/>
<ellipse cx="832" cy="1166" rx="12" ry="4" fill="#ee1c24"/>
<path d="M832,1168 C830,1175 823,1180 823,1188 C823,1194 827,1197 832,1197 C837,1197 842,1194 842,1188 C842,1180 834,1175 832,1168 Z" fill="#ee1c24"/>
<ellipse cx="832" cy="1188" rx="4" ry="6" fill="url(#gPk)"/>
<path d="M833,1213 C831,1220 823,1226 823,1233 C823,1240 828,1244 833,1244 C838,1244 843,1240 843,1233 C843,1226 835,1220 833,1213 Z" fill="#ee1c24"/>
<ellipse cx="833" cy="1234" rx="4" ry="6" fill="url(#gPk)"/>
<rect x="818" y="1097" width="29" height="66" fill="url(#gEl)" stroke="#333" stroke-width="1"/>
<ellipse cx="836" cy="1097" rx="9" ry="3" fill="#222"/>

<!-- panel 3 text -->
<text x="834" y="1068" font-size="12" class="b" fill="#3a7d3a" text-anchor="middle" textLength="113" lengthAdjust="spacingAndGlyphs">МЕЛКОКАПЕЛЬНЫЙ</text>
<text x="755" y="1113" font-size="13" class="b" fill="#8b3a1e">d<tspan font-size="9">э</tspan></text>
<path d="M772,1108 H812 M893,1108 H853" stroke="#222" stroke-width="1"/>
<polygon points="817,1108 810,1105 810,1111" fill="#222"/><polygon points="848,1108 855,1105 855,1111" fill="#222"/>
<g font-size="12" class="b" fill="#222" text-anchor="end">
<text x="946" y="1131" textLength="63" lengthAdjust="spacingAndGlyphs">Электроды</text>
<text x="946" y="1147" textLength="89" lengthAdjust="spacingAndGlyphs">с целлюлозным</text>
<text x="946" y="1163" textLength="64" lengthAdjust="spacingAndGlyphs">покрытием</text>
</g>
<text x="933" y="1181" font-size="13" class="b" fill="#8b3a1e" text-anchor="end">d<tspan font-size="9">к</tspan> &lt; d<tspan font-size="9">э</tspan></text>
<text x="704" y="1197" font-size="12" class="b" fill="#222">I, U</text>
<text x="755" y="1237" font-size="13" class="b" fill="#8b3a1e">d<tspan font-size="9">к</tspan></text>
<path d="M772,1232 H815 M896,1232 H851" stroke="#222" stroke-width="1"/>
<polygon points="820,1232 813,1229 813,1235" fill="#222"/><polygon points="846,1232 853,1229 853,1235" fill="#222"/>
<path d="M712,1443 V1215 M712,1443 H943" stroke="#111" stroke-width="2"/>
<polygon points="712,1206 707,1219 717,1219" fill="#111"/><polygon points="951,1443 939,1438 939,1448" fill="#111"/>
<text x="953" y="1449" font-size="13" fill="#111">t</text>
<path d="M713,1328 L745,1328 Q772,1308 800,1328 L852,1328 Q880,1308 910,1328 L940,1328" fill="none" stroke="#e8173c" stroke-width="3"/>
<path d="M713,1367 L745,1367 L758,1376 Q785,1366 820,1366 L855,1366 L865,1375 Q890,1363 940,1364" fill="none" stroke="#3a6fc8" stroke-width="3"/>
<text x="928" y="1321" font-size="12" class="b" fill="#e8173c">I<tspan font-size="8">св</tspan></text>
<text x="928" y="1359" font-size="12" class="b" fill="#3a6fc8">U<tspan font-size="8">д</tspan></text>
</svg>
</body></html>
